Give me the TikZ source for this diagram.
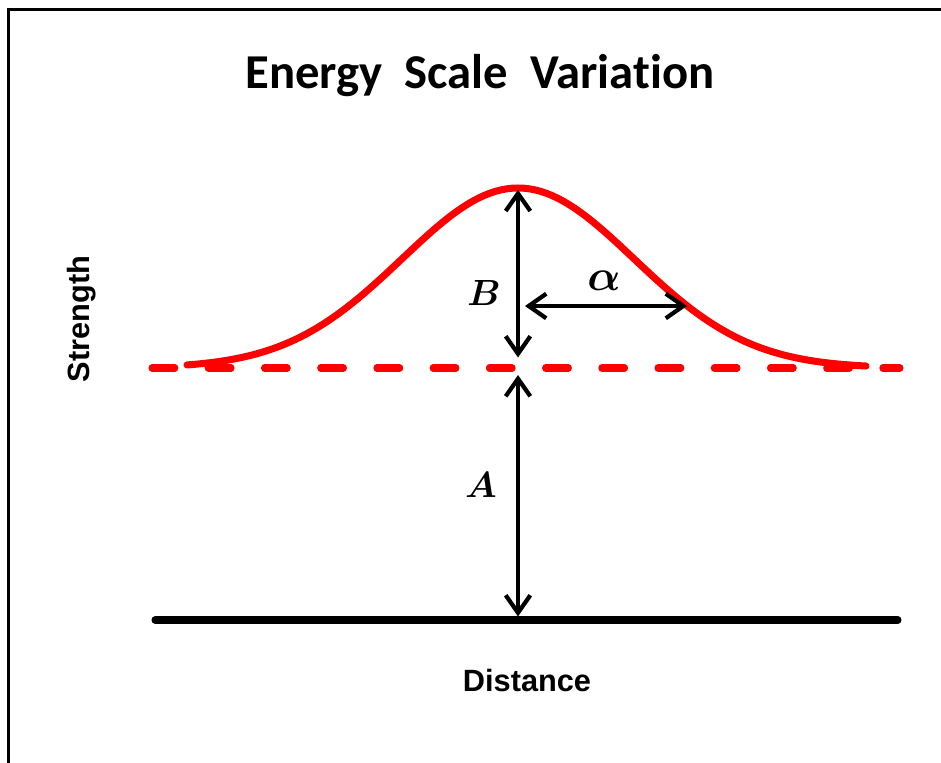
\documentclass[tikz,border=0pt]{standalone}
\usepackage{fontspec}
\setmainfont{Liberation Sans}
\newfontfamily\titlefont[Ligatures=NoCommon]{Carlito}
\usepackage{amsmath}
\usepackage{bm}
\usetikzlibrary{arrows.meta}
\definecolor{curvered}{RGB}{255, 0, 0}

\begin{document}
\begin{tikzpicture}[
    x=0.02cm, y=-0.02cm,
    >={Straight Barb[length=10pt, width=14pt]},
    frame_line/.style={draw=black, line width=1.7pt},
    base_line/.style={draw=black, line width=4pt, line cap=round},
    level_line/.style={draw=curvered, line width=4pt, line cap=round, dash pattern=on 13pt off 19pt},
    bump/.style={draw=curvered, line width=4pt, line cap=round, line join=round},
    span/.style={draw=black, line width=2.4pt, <->},
    title_text/.style={font=\titlefont\fontsize{27.7}{32}\selectfont\bfseries},
    axis_label/.style={font=\fontsize{17.5}{20}\selectfont\bfseries},
    sym_label/.style={font=\fontsize{20}{24}\selectfont}
]
    \useasboundingbox (0,0) rectangle (941,762);

    % Frame (open to the right and bottom)
    \draw[frame_line] (8.7,770) -- (8.7,9.7) -- (950,9.7);

    % Title
    \node[title_text, anchor=base] (title) at (480,88) {Energy\ \ Scale\ \ Variation};

    % Key points
    \coordinate (peak) at (518,188);
    \coordinate (level) at (518,368);
    \coordinate (foot) at (518,620);
    \coordinate (halfL) at (525,306);
    \coordinate (halfR) at (687,306);

    % Ground line and dashed background level
    \draw[base_line] (155,620) -- (898,620);
    \draw[level_line] (152,368) -- (900,368);

    % Gaussian bump on top of the level
    \draw[bump] plot[domain=187:866, samples=120] (\x, {368-180*exp(-((\x-518)/116)^2/2)});

    % --- Size arrows ---
    \draw[span, shorten <=1pt, shorten >=6pt] (peak) -- (level);
    \draw[span, shorten <=4pt, shorten >=2pt] (level) -- (foot);
    \draw[span] (halfL) -- (halfR);

    % Symbols
    \node[sym_label] (lblB) at (484,293) {$\bm{B}$};
    \node[sym_label] (lblA) at (481,485) {$\bm{A}$};
    \node[sym_label, font=\fontsize{25}{30}\selectfont] (lblalpha) at (604,281) {$\bm{\alpha}$};

    % Axis labels
    \node[axis_label, rotate=90] (ylab) at (82,319) {Strength};
    \node[axis_label] (xlab) at (527,680) {Distance};

\end{tikzpicture}
\end{document}
